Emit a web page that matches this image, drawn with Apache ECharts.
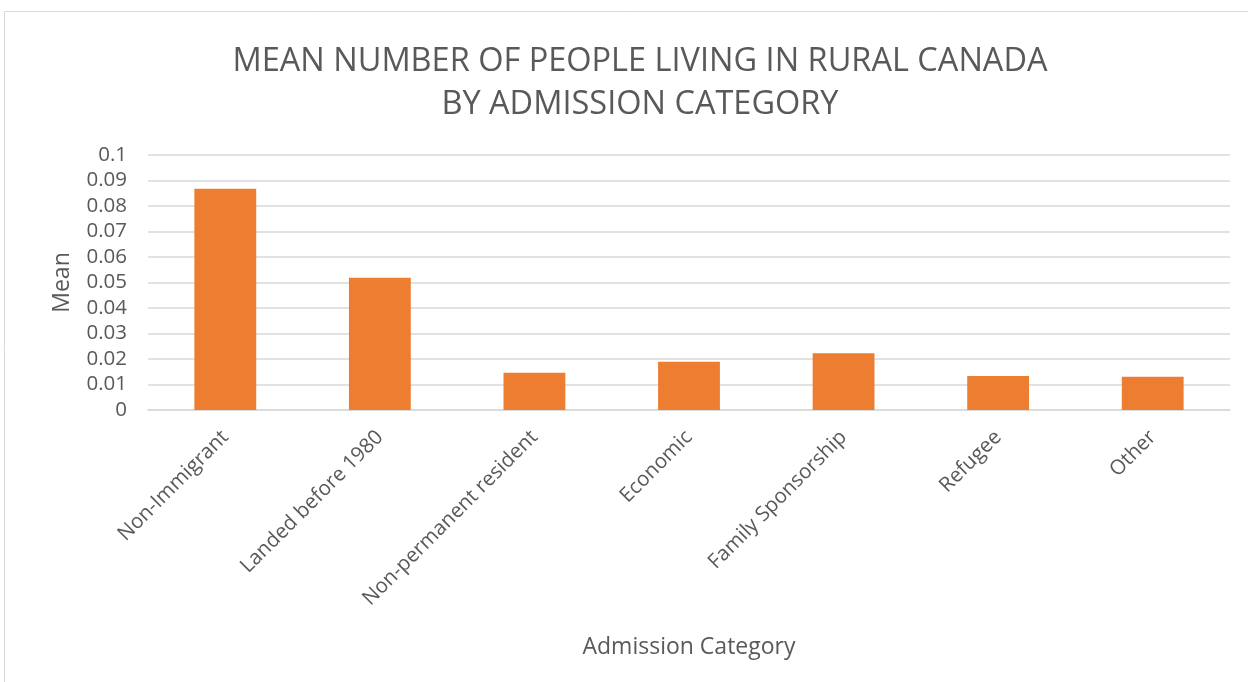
<!DOCTYPE html>
<html>
<head>
<meta charset="utf-8">
<script src="https://cdn.jsdelivr.net/npm/echarts@6/dist/echarts.min.js"></script>
<style>
  html, body { margin: 0; padding: 0; background: #fff; }
  #chart { width: 1248px; height: 682px; }
</style>
</head>
<body>
<div id="chart"></div>
<script>
const categories = [
  "Non-Immigrant",
  "Landed before 1980",
  "Non-permanent resident",
  "Economic",
  "Family Sponsorship",
  "Refugee",
  "Other"
];
const meanValues = [0.0868, 0.0519, 0.0146, 0.0189, 0.0223, 0.0133, 0.0130];
const titleLines = ["MEAN NUMBER OF PEOPLE LIVING IN RURAL CANADA", "BY ADMISSION CATEGORY"];

const chart = echarts.init(document.getElementById("chart"));
const font = "'Open Sans', sans-serif";
const options = {
  backgroundColor: "#fff",
  textStyle: { fontFamily: font },
  graphic: [
    {
      type: "rect",
      shape: { x: 4.5, y: 11.5, width: 1260, height: 700 },
      style: { fill: "none", stroke: "#d9d9d9", lineWidth: 1 },
      silent: true
    }
  ],
  title: {
    text: titleLines.join("\n"),
    left: 635,
    textAlign: "center",
    top: 35,
    textStyle: {
      fontFamily: font,
      fontSize: 32.5,
      fontWeight: "normal",
      color: "#595959",
      lineHeight: 43
    }
  },
  grid: {
    left: 148,
    right: 18,
    top: 155,
    bottom: 272
  },
  xAxis: {
    type: "category",
    data: categories,
    name: "Admission Category",
    nameLocation: "middle",
    nameGap: 226,
    nameTextStyle: { fontSize: 23, color: "#595959", fontFamily: font },
    axisLine: { show: true, lineStyle: { color: "#d9d9d9", width: 1.5 } },
    axisTick: { show: false },
    axisLabel: {
      interval: 0,
      rotate: 45,
      fontSize: 20.5,
      color: "#595959",
      fontFamily: font,
      margin: 24
    }
  },
  yAxis: {
    type: "value",
    min: 0,
    max: 0.1,
    interval: 0.01,
    name: "Mean",
    nameLocation: "middle",
    nameGap: 74,
    nameRotate: 90,
    nameTextStyle: { fontSize: 23, color: "#595959", fontFamily: font },
    axisLine: { show: false },
    axisTick: { show: false },
    axisLabel: {
      fontSize: 20.5,
      color: "#595959",
      fontFamily: font,
      margin: 21,
      formatter: (v) => (v === 0 ? "0" : String(parseFloat(v.toFixed(2))))
    },
    splitLine: { show: true, lineStyle: { color: "#d9d9d9", width: 1.5 } }
  },
  series: [
    {
      type: "bar",
      data: meanValues,
      barWidth: "40%",
      itemStyle: { color: "#ed7d31" },
      silent: true
    }
  ],
  animation: false
};
chart.setOption(options);
</script>
</body>
</html>
